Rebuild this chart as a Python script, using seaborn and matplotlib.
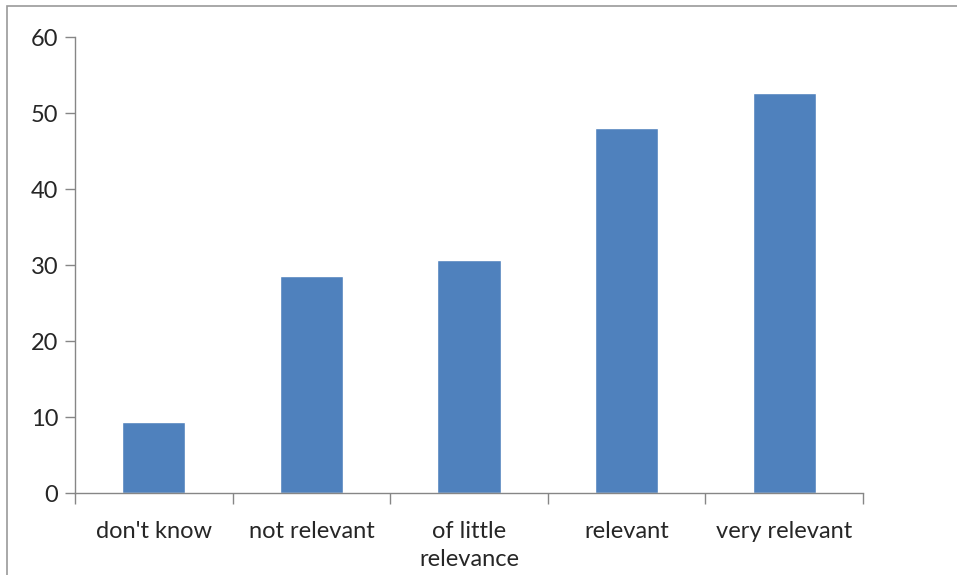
import matplotlib
matplotlib.use('Agg')
import matplotlib.pyplot as plt
from matplotlib.patches import Rectangle
from matplotlib.ticker import FixedLocator, NullFormatter
import seaborn as sns
import pandas as pd
import numpy as np

categories = ["don't know", 'not relevant', 'of little\nrelevance', 'relevant', 'very relevant']
values = [9.3, 28.5, 30.6, 48.0, 52.6]

bar_color = '#4F81BD'
axis_color = '#868686'

sns.set_style('white')
plt.rcParams['font.family'] = ['Lato', 'DejaVu Sans']

df = pd.DataFrame({'category': categories, 'value': values})

fig = plt.figure(figsize=(9.57, 5.75), dpi=100)
ax = fig.add_axes([75 / 957, 1 - 493 / 575, (863 - 75) / 957, (493 - 37) / 575])

sns.barplot(data=df, x='category', y='value', color=bar_color, width=0.4,
            saturation=1, ax=ax)

ax.set_ylim(0, 60)
ax.set_xlim(-0.5, len(categories) - 0.5)
ax.set_yticks(np.arange(0, 61, 10))
ax.set_xlabel('')
ax.set_ylabel('')

# category boundaries get the tick marks, labels sit at the centres
ax.xaxis.set_minor_locator(FixedLocator(np.arange(-0.5, len(categories), 1)))
ax.xaxis.set_minor_formatter(NullFormatter())
ax.tick_params(axis='x', which='major', bottom=True, length=0, pad=20, labelsize=17)
ax.tick_params(axis='x', which='minor', bottom=True, length=8, width=1,
               color=axis_color, direction='out')
ax.tick_params(axis='y', left=True, length=7, width=1, color=axis_color,
               direction='out', labelsize=17, pad=5)
for lbl in ax.get_xticklabels():
    lbl.set_linespacing(1.45)

sns.despine(ax=ax, top=True, right=True)
for side in ['left', 'bottom']:
    ax.spines[side].set_color(axis_color)
    ax.spines[side].set_linewidth(1)

# outer chart frame (cut off at the right and bottom like the source)
frame = Rectangle((7 / 957, -0.1), 1.2, 1 - 6 / 575 + 0.1, transform=fig.transFigure,
                  fill=False, edgecolor='#9a9a9a', linewidth=1.2, clip_on=False)
fig.patches.append(frame)

fig.savefig('out.png', dpi=100)
